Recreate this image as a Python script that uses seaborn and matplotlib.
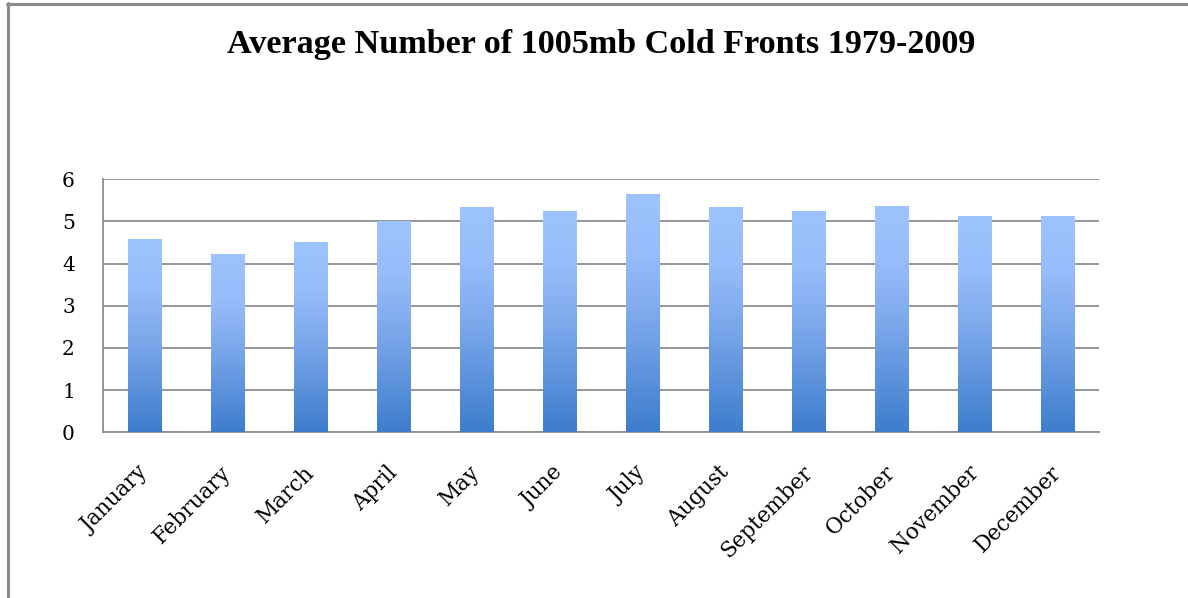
import numpy as np
import pandas as pd
import matplotlib
matplotlib.use("Agg")
import matplotlib.pyplot as plt
import matplotlib.patheffects as pe
import matplotlib.transforms as mtransforms
from matplotlib.colors import LinearSegmentedColormap
import seaborn as sns

months = ["January", "February", "March", "April", "May", "June", "July",
          "August", "September", "October", "November", "December"]
avg_fronts = [4.58, 4.24, 4.52, 5.00, 5.34, 5.25, 5.64, 5.34, 5.24, 5.37, 5.12, 5.12]
y_ticks = [0, 1, 2, 3, 4, 5, 6]
title = "Average Number of 1005mb Cold Fronts 1979-2009"

df = pd.DataFrame({"month": months, "fronts": avg_fronts})

sns.set_style("white")
plt.rcParams["font.family"] = ["DejaVu Serif", "Liberation Serif"]

fig = plt.figure(figsize=(11.88, 5.98), dpi=100)
ax = fig.add_axes([102.7 / 1188, 1 - 432.3 / 598, 996 / 1188, (432.3 - 179.3) / 598])

sns.barplot(data=df, x="month", y="fronts", ax=ax, width=0.4,
            color="#6a9ee8", saturation=1, edgecolor="none")

# vertical gradient fill inside each bar
grad = LinearSegmentedColormap.from_list(
    "bar", [(0.0, "#3d7dcc"), (0.45, "#79a6ea"), (0.75, "#97bdfa"), (1.0, "#9ec4ff")])
gradient = np.linspace(0, 1, 256).reshape(-1, 1)
for p in ax.patches:
    x0, y0 = p.get_x(), p.get_y()
    w, h = p.get_width(), p.get_height()
    p.set_path_effects([pe.SimplePatchShadow(offset=(0, -1), shadow_rgbFace="#7f7f7f",
                                             alpha=0.35), pe.Normal()])
    im = ax.imshow(gradient, cmap=grad, origin="lower", aspect="auto",
                   extent=(x0, x0 + w, y0, y0 + h), zorder=3)
    im.set_clip_path(p)

ax.set_xlim(-0.5, len(months) - 0.5)
ax.set_ylim(0, 6)
ax.set_yticks(y_ticks)
ax.set_xlabel("")
ax.set_ylabel("")

grid_c = "#8e8e8e"
ax.yaxis.grid(True, color=grid_c, linewidth=1.3, zorder=0)
ax.set_axisbelow(True)
for side in ["top", "right"]:
    ax.spines[side].set_visible(False)
for side in ["left", "bottom"]:
    ax.spines[side].set_color(grid_c)
    ax.spines[side].set_linewidth(1.3)

# category boundary ticks on the x axis
ax.set_xticks(np.arange(-0.5, len(months) + 0.5, 1), minor=True)
ax.tick_params(axis="x", which="minor", length=8, width=1.2, color=grid_c, direction="out")
ax.tick_params(axis="x", which="major", length=0, pad=21)
ax.tick_params(axis="y", length=9, width=1.2, color=grid_c, direction="out", pad=11,
               labelsize=14.5, labelcolor="#000000")
ax.set_xticks(range(len(months)))
ax.set_xticklabels(months, rotation=45, ha="right", rotation_mode="anchor",
                   fontsize=15.5, color="#000000")
shift = mtransforms.ScaledTranslation(-7 / 100, 0, fig.dpi_scale_trans)
for lbl in ax.get_xticklabels():
    lbl.set_transform(lbl.get_transform() + shift)

fig.text(601 / 1188, 1 - 44 / 598, title, ha="center", va="center",
         fontsize=24.6, fontweight="bold", color="#000000",
         family=["Liberation Serif", "DejaVu Serif"])

# outer chart frame (top and left edges)
frame_c = "#8c8c8c"
fig.add_artist(plt.Line2D([7 / 1188, 1], [1 - 3.5 / 598] * 2, color=frame_c,
                          linewidth=2.2, transform=fig.transFigure))
fig.add_artist(plt.Line2D([7.5 / 1188] * 2, [0, 1 - 3 / 598], color=frame_c,
                          linewidth=2.2, transform=fig.transFigure))

fig.savefig("out.png", dpi=100)
